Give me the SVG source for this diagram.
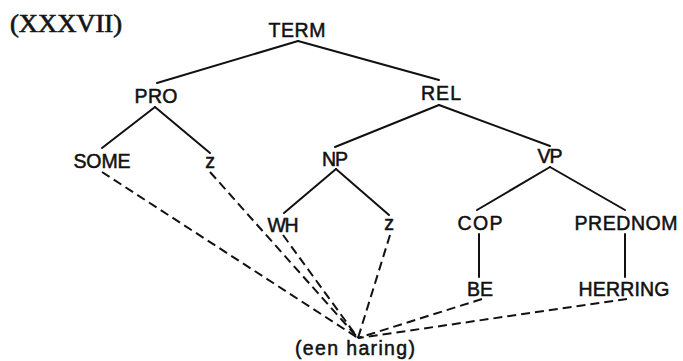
<svg xmlns="http://www.w3.org/2000/svg" width="683" height="361" viewBox="0 0 683 361">
<style>
text{font-family:"Liberation Sans",Arial,sans-serif;font-size:19.5px;fill:#111;stroke:#111;stroke-width:0.5;text-anchor:middle}
.t{font-family:"Liberation Serif","Times New Roman",serif;font-size:25px;stroke:#222;stroke-width:0.7;text-anchor:start}
.e{stroke:#111;stroke-width:2;fill:none;stroke-linecap:round}
.d{stroke:#111;stroke-width:2;fill:none;stroke-dasharray:9 5}
</style>
<rect width="683" height="361" fill="#fff"/>
<text class="t" x="10" y="32" textLength="112" lengthAdjust="spacingAndGlyphs">(XXXVII)</text>
<g id="connectors">
<line class="e" x1="298" y1="41" x2="157" y2="83"/>
<line class="e" x1="298" y1="41" x2="439" y2="80"/>
<line class="e" x1="155" y1="107" x2="102" y2="148"/>
<line class="e" x1="155" y1="107" x2="210" y2="153"/>
<line class="e" x1="439" y1="105" x2="335" y2="147"/>
<line class="e" x1="439" y1="105" x2="550" y2="146"/>
<line class="e" x1="336" y1="169" x2="284" y2="213"/>
<line class="e" x1="336" y1="169" x2="389" y2="215"/>
<line class="e" x1="550" y1="167" x2="477" y2="210"/>
<line class="e" x1="550" y1="167" x2="625" y2="210"/>
<line class="e" x1="479" y1="234" x2="479" y2="277"/>
<line class="e" x1="625" y1="234" x2="625" y2="277"/>
<line class="d" x1="102" y1="172" x2="358" y2="338"/>
<line class="d" x1="210" y1="172" x2="358" y2="338"/>
<line class="d" x1="283" y1="235" x2="358" y2="338"/>
<line class="d" x1="390" y1="235" x2="358" y2="338"/>
<line class="d" x1="482" y1="299" x2="358" y2="338"/>
<line class="d" x1="627" y1="299" x2="358" y2="338"/>
</g>
<g id="TERM"><text x="297" y="37" textLength="57">TERM</text></g>
<g id="PRO"><text x="156" y="103" textLength="43">PRO</text></g>
<g id="REL"><text x="441" y="100" textLength="40">REL</text></g>
<g id="SOME"><text x="102" y="168" textLength="57">SOME</text></g>
<g id="z1"><text x="210" y="168">z</text></g>
<g id="NP"><text x="335" y="166" textLength="26">NP</text></g>
<g id="VP"><text x="550" y="163" textLength="25">VP</text></g>
<g id="WH"><text x="283" y="232" textLength="31">WH</text></g>
<g id="z2"><text x="389" y="230">z</text></g>
<g id="COP"><text x="480" y="230" textLength="45">COP</text></g>
<g id="PREDNOM"><text x="626" y="230" textLength="103">PREDNOM</text></g>
<g id="BE"><text x="480" y="296" textLength="26">BE</text></g>
<g id="HERRING"><text x="624" y="296" textLength="91">HERRING</text></g>
<g id="een-haring"><text x="355" y="355" textLength="120">(een haring)</text></g>
</svg>
